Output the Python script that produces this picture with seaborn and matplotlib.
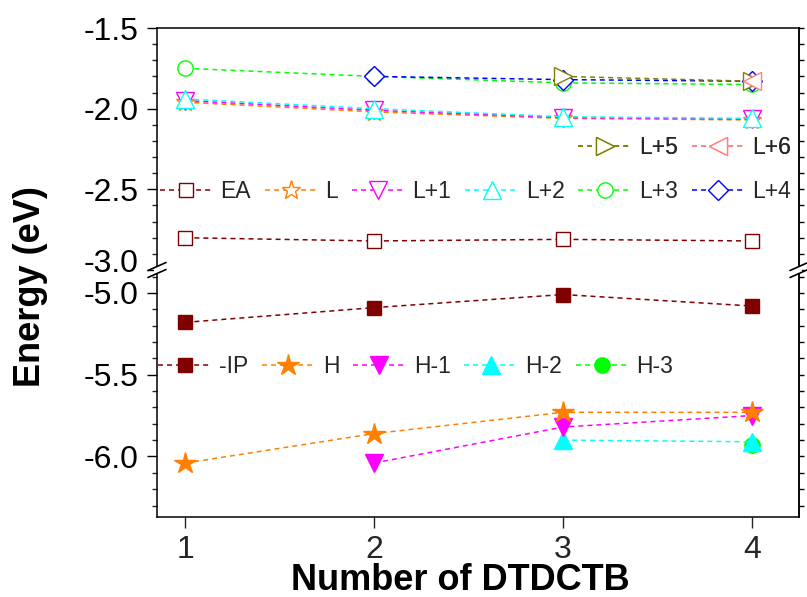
import numpy as np
import pandas as pd
import matplotlib
matplotlib.use("Agg")
import matplotlib.pyplot as plt
import seaborn as sns
from matplotlib.lines import Line2D
from matplotlib.ticker import MultipleLocator, FixedLocator
from matplotlib.transforms import ScaledTranslation

# ---------------- data ----------------
x_vals = [1, 2, 3, 4]
nan = np.nan
# upper segment (unoccupied levels)
EA  = [-2.80, -2.82, -2.81, -2.82]
L   = [-1.96, -2.02, -2.06, -2.07]
L1  = [-1.95, -2.01, -2.055, -2.065]
L2  = [-1.94, -2.00, -2.05, -2.06]
L3  = [-1.75, -1.80, -1.84, -1.85]
L4  = [nan, -1.80, -1.82, -1.83]
L5  = [nan, nan, -1.80, -1.83]
L6  = [nan, nan, nan, -1.83]
# lower segment (occupied levels)
IP  = [-5.18, -5.09, -5.01, -5.08]
H   = [-6.04, -5.86, -5.73, -5.73]
H1  = [nan, -6.04, -5.82, -5.75]
H2  = [nan, nan, -5.90, -5.91]
H3  = [nan, nan, nan, -5.93]

top_ticks = [-3.0, -2.5, -2.0, -1.5]
top_labels = ["-3.0", "-2.5", "-2.0", "-1.5"]
bot_ticks = [-6.0, -5.5, -5.0]
bot_labels = ["-6.0", "-5.5", "-5.0"]

top_series = [("EA", EA), ("L", L), ("L+1", L1), ("L+2", L2),
              ("L+3", L3), ("L+4", L4), ("L+5", L5), ("L+6", L6)]
bot_series = [("-IP", IP), ("H", H), ("H-1", H1), ("H-2", H2), ("H-3", H3)]

colors = {"EA": "#800000", "L": "#FF8000", "L+1": "#FF00FF", "L+2": "#00FFFF",
          "L+3": "#00FF00", "L+4": "#0000FF", "L+5": "#808000", "L+6": "#FF8080",
          "-IP": "#800000", "H": "#FF8000", "H-1": "#FF00FF", "H-2": "#00FFFF",
          "H-3": "#00FF00"}
markers = {"EA": ("s", 10), "L": ("*", 14), "L+1": ("v", 13), "L+2": ("^", 13),
           "L+3": ("o", 11), "L+4": ("D", 10), "L+5": (">", 13), "L+6": ("<", 13),
           "-IP": ("s", 10), "H": ("*", 16), "H-1": ("v", 13), "H-2": ("^", 13),
           "H-3": ("o", 11)}

# ---------------- style ----------------
sns.set_theme(style="white")
plt.rcParams["font.family"] = ["Liberation Sans", "DejaVu Sans"]
plt.rcParams["axes.unicode_minus"] = False
plt.rcParams["lines.scale_dashes"] = False

W, Hpx = 807, 597
fig = plt.figure(figsize=(W / 100, Hpx / 100), dpi=100)
fig.patch.set_facecolor("white")

left_px, right_px = 157, 799
top_px, brk_px, bot_px = 28, 270, 517
lft = left_px / W
wid = (right_px - left_px) / W
ax_top = fig.add_axes([lft, 1 - brk_px / Hpx, wid, (brk_px - top_px) / Hpx])
ax_bot = fig.add_axes([lft, 1 - bot_px / Hpx, wid, (bot_px - brk_px) / Hpx])

DASH = (0, (3.6, 2.9))
LW = 1.1


def draw(ax, name, vals, filled):
    df = pd.DataFrame({"x": x_vals, "y": vals}).dropna()
    m, ms = markers[name]
    c = colors[name]
    sns.lineplot(data=df, x="x", y="y", ax=ax, color=c, linestyle=DASH,
                 linewidth=LW, marker=m, markersize=ms,
                 markerfacecolor=(c if filled else "white"),
                 markeredgecolor=c, markeredgewidth=1.0, legend=False)


for name, vals in top_series:
    draw(ax_top, name, vals, False)
for name, vals in reversed(bot_series):
    draw(ax_bot, name, vals, True)

xlim = (0.85, 4.25)
TICK_FS = 23
for ax in (ax_top, ax_bot):
    ax.set_xlim(*xlim)
    ax.set_xlabel("")
    ax.set_ylabel("")
    ax.set_facecolor("white")
    for s in ax.spines.values():
        s.set_color("black")
        s.set_linewidth(1.1)
    ax.yaxis.set_minor_locator(MultipleLocator(0.1))
    ax.tick_params(axis="y", which="major", direction="out", length=7, width=1.0,
                   labelsize=TICK_FS, pad=6, left=True, right=False, colors="black")
    ax.tick_params(axis="y", which="minor", direction="out", length=3.5, width=1.0,
                   left=True, right=False)
    ax.grid(False)

ax_top.set_ylim(-3.0, -1.5)
ax_bot.set_ylim(-6.37, -4.86)
ax_top.yaxis.set_major_locator(FixedLocator(top_ticks))
ax_bot.yaxis.set_major_locator(FixedLocator(bot_ticks))
ax_top.set_yticklabels(top_labels)
ax_bot.set_yticklabels(bot_labels)

# right-hand spine: only short ticks every 0.1
for ax in (ax_top, ax_bot):
    sec = ax.secondary_yaxis("right")
    sec.yaxis.set_major_locator(MultipleLocator(0.1))
    sec.tick_params(axis="y", which="major", direction="out", length=3.5,
                    width=1.0, labelright=False, colors="black")
    sec.spines["right"].set_linewidth(1.1)
    sec.spines["right"].set_color("black")

# shift the "-3.0" label up so it clears the break (as in the reference)
lab30 = ax_top.get_yticklabels()[0]
lab30.set_transform(lab30.get_transform() +
                    ScaledTranslation(0, 9 / 100, fig.dpi_scale_trans))

ax_top.spines["bottom"].set_visible(False)
ax_bot.spines["top"].set_visible(False)
ax_top.tick_params(axis="x", which="both", bottom=False, labelbottom=False)
ax_bot.set_xticks(x_vals)
ax_bot.set_xticklabels([str(v) for v in x_vals])
ax_bot.tick_params(axis="x", which="major", direction="out", length=8, width=1.0,
                   labelsize=TICK_FS, pad=5, bottom=True, top=False)

# ---------------- legends ----------------
def handle(name, filled):
    m, ms = markers[name]
    c = colors[name]
    return Line2D([], [], color=c, linestyle=DASH, linewidth=LW, marker=m,
                  markersize=ms, markerfacecolor=(c if filled else "white"),
                  markeredgecolor=c, markeredgewidth=1.0)

leg_kw = dict(frameon=False, fontsize=16.5, handlelength=2.3, handletextpad=0.35,
              columnspacing=0.6, borderpad=0.0, borderaxespad=0.0, numpoints=1)

names1 = ["EA", "L", "L+1", "L+2", "L+3", "L+4"]
leg1 = ax_top.legend([handle(n, False) for n in names1], names1, ncol=6,
                     loc="center right", bbox_to_anchor=(0.988, 0.326), **leg_kw)
ax_top.add_artist(leg1)
names2 = ["L+5", "L+6"]
leg2 = ax_top.legend([handle(n, False) for n in names2], names2, ncol=2,
                     loc="center right", bbox_to_anchor=(0.988, 0.508), **leg_kw)
ax_top.add_artist(leg2)
names3 = ["-IP", "H", "H-1", "H-2", "H-3"]
leg3 = ax_bot.legend([handle(n, True) for n in names3], names3, ncol=5,
                     loc="center left", bbox_to_anchor=(0.002, 0.611), **leg_kw)

# ---------------- break marks ----------------
def fpt(px, py):
    return px / W, 1 - py / Hpx

for xs in (left_px, right_px):
    gx0, gy0 = fpt(xs - 3, brk_px + 3.5)
    rect = plt.Rectangle((gx0, gy0), 6 / W, 7 / Hpx, transform=fig.transFigure,
                         facecolor="white", edgecolor="none", zorder=10)
    fig.add_artist(rect)
    for dy in (-3.5, 3.5):
        p0 = fpt(xs - 9, brk_px + dy + 4)
        p1 = fpt(xs + 9, brk_px + dy - 4)
        fig.add_artist(Line2D([p0[0], p1[0]], [p0[1], p1[1]],
                              transform=fig.transFigure, color="black",
                              linewidth=1.2, zorder=11))

# ---------------- axis titles ----------------
lab_font = dict(family=["Liberation Sans", "DejaVu Sans"],
                weight="bold", size=26, color="black")
fig.text(31 / W, 1 - 287 / Hpx, "Energy (eV)", rotation=90, ha="center",
         va="center", **lab_font)
fig.text(460 / W, 1 - 590 / Hpx, "Number of DTDCTB", ha="center",
         va="baseline", **lab_font)

fig.savefig("out.png", dpi=100, facecolor="white")
